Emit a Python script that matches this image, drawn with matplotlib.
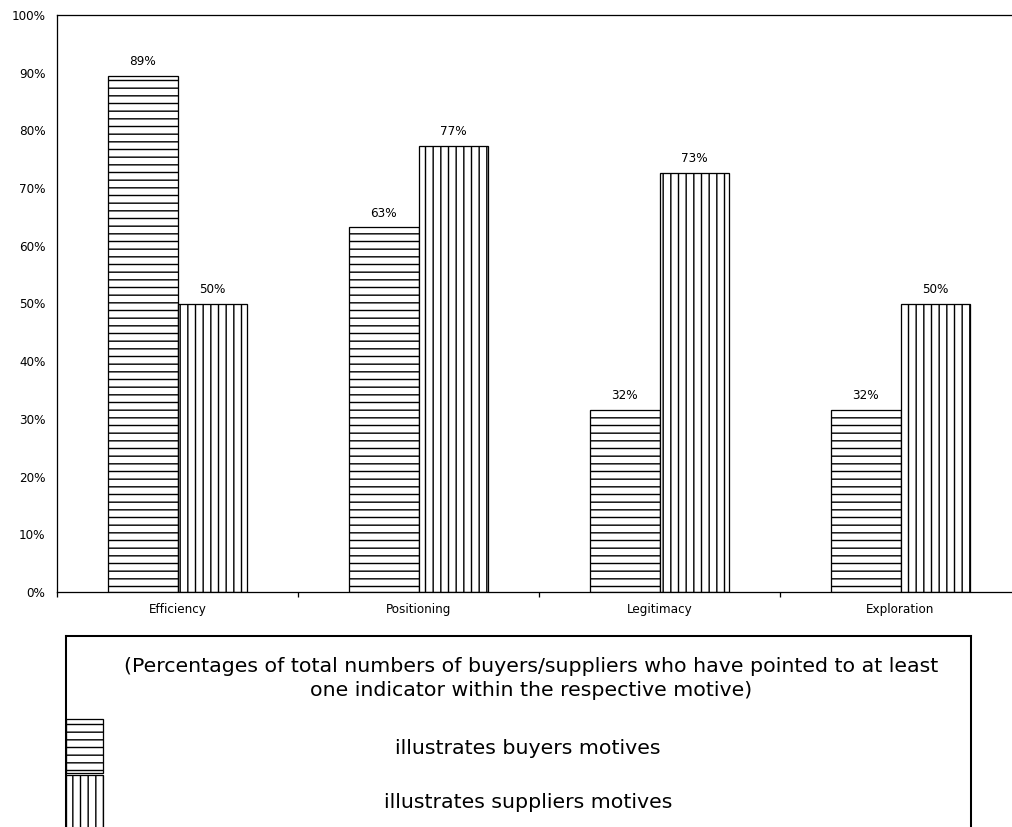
import matplotlib
matplotlib.use("Agg")
import matplotlib.pyplot as plt
from matplotlib.patches import Rectangle
from matplotlib.lines import Line2D
import numpy as np

plt.rcParams["font.family"] = ["DejaVu Sans"]
plt.rcParams["hatch.linewidth"] = 1.1

# data
motives = ["Efficiency", "Positioning", "Legitimacy", "Exploration"]
buyers = [0.895, 0.632, 0.316, 0.316]
suppliers = [0.50, 0.773, 0.727, 0.50]
buyers_lbl = ["89%", "63%", "32%", "32%"]
suppliers_lbl = ["50%", "77%", "73%", "50%"]
yticks = [0, 0.1, 0.2, 0.3, 0.4, 0.5, 0.6, 0.7, 0.8, 0.9, 1.0]

W, H = 1012, 827
DPI = 92
fig = plt.figure(figsize=(W / DPI, H / DPI), dpi=DPI)

def fx(px):
    return px / W

def fy(py):
    return 1 - py / H

small = 9.4
big = 16

ax = fig.add_axes([fx(57), fy(592), fx(964), fy(15) - fy(592)])

x = np.arange(len(motives)) + 0.5
bw = 0.288
ax.bar(x - bw / 2, buyers, bw, color="white", edgecolor="black", linewidth=1.0, hatch="--")
ax.bar(x + bw / 2, suppliers, bw, color="white", edgecolor="black", linewidth=1.0, hatch="||")

for i in range(len(motives)):
    ax.text(x[i] - bw / 2, buyers[i] + 0.013, buyers_lbl[i], ha="center", va="bottom", fontsize=small)
    ax.text(x[i] + bw / 2, suppliers[i] + 0.013, suppliers_lbl[i], ha="center", va="bottom", fontsize=small)

ax.set_xlim(0, 4)
ax.set_ylim(0, 1)
ax.set_yticks(yticks)
ax.set_yticklabels(["%d%%" % round(v * 100) for v in yticks], fontsize=small)
ax.tick_params(axis="y", length=0, pad=9)

ax.set_xticks([0, 1, 2, 3, 4])
ax.set_xticklabels([])
ax.tick_params(axis="x", which="major", direction="out", length=4, width=1)
ax.set_xticks(x, minor=True)
ax.set_xticklabels(motives, minor=True, fontsize=small)
ax.tick_params(axis="x", which="minor", length=0, pad=9)

ax.spines["right"].set_visible(False)
for s in ["left", "top", "bottom"]:
    ax.spines[s].set_linewidth(1.0)

# legend box under the chart
lw = 1.6
fig.add_artist(Line2D([fx(66), fx(66)], [fy(636), fy(830)], color="black", lw=lw, transform=fig.transFigure))
fig.add_artist(Line2D([fx(66), fx(971)], [fy(636), fy(636)], color="black", lw=lw, transform=fig.transFigure))
fig.add_artist(Line2D([fx(971), fx(971)], [fy(636), fy(830)], color="black", lw=lw, transform=fig.transFigure))

fig.text(fx(531), fy(667), "(Percentages of total numbers of buyers/suppliers who have pointed to at least",
         ha="center", va="center", fontsize=big)
fig.text(fx(531), fy(691), "one indicator within the respective motive)",
         ha="center", va="center", fontsize=big)
fig.text(fx(528), fy(748), "illustrates buyers motives", ha="center", va="center", fontsize=big)
fig.text(fx(528), fy(802), "illustrates suppliers motives", ha="center", va="center", fontsize=big)

fig.add_artist(Rectangle((fx(66), fy(773)), fx(37), fy(719) - fy(773), facecolor="white",
                         edgecolor="black", linewidth=1.0, hatch="--", transform=fig.transFigure))
fig.add_artist(Rectangle((fx(66), fy(830)), fx(37), fy(775) - fy(830), facecolor="white",
                         edgecolor="black", linewidth=1.0, hatch="||", transform=fig.transFigure))

fig.savefig("out.png", dpi=DPI)
